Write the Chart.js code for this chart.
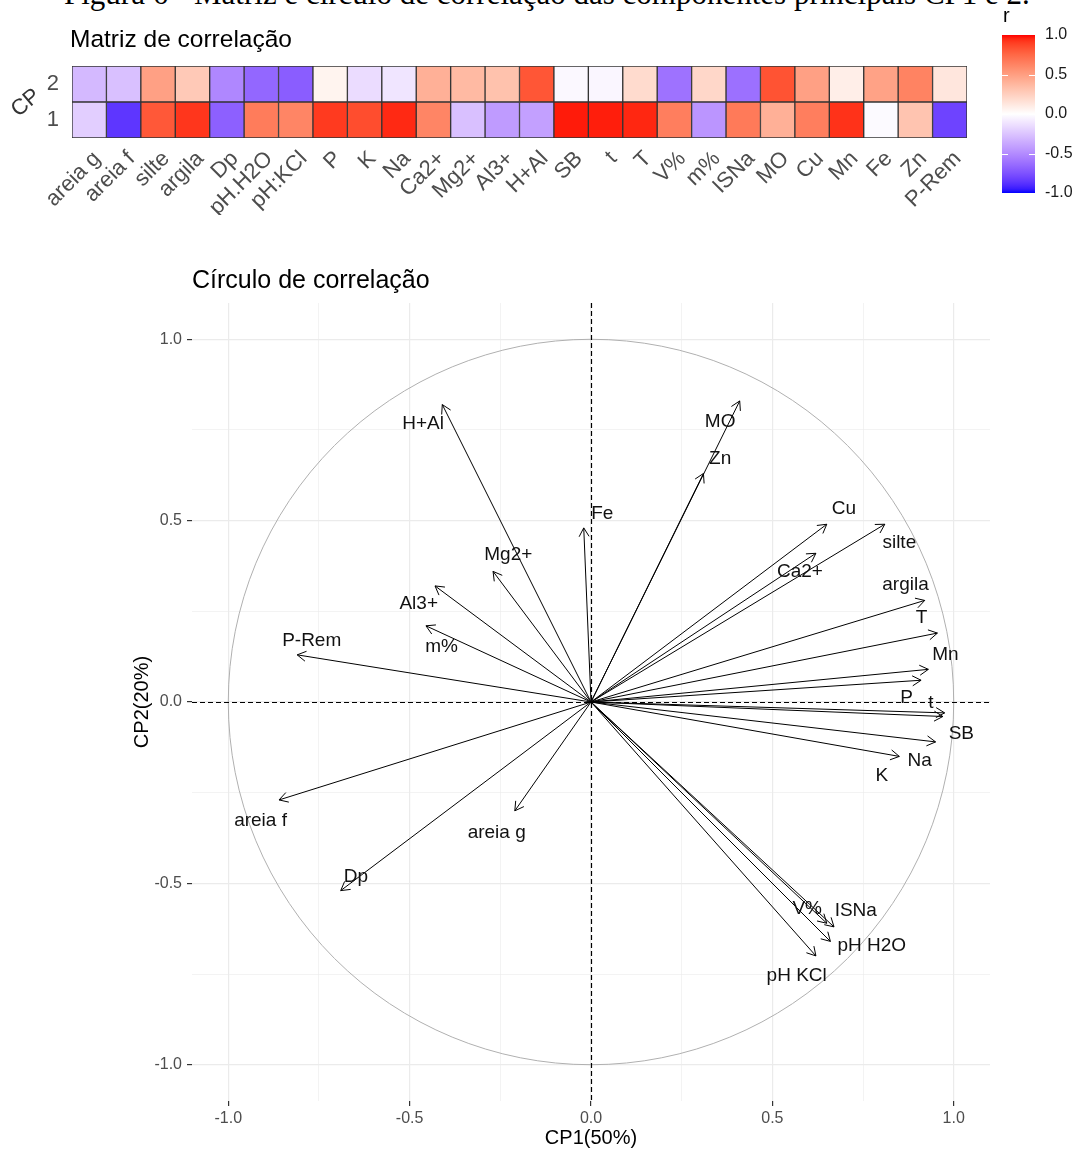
<!DOCTYPE html>
<html>
<head>
<meta charset="utf-8">
<script src="https://cdn.jsdelivr.net/npm/chart.js@4.4.1/dist/chart.umd.min.js"></script>
<style>
  body { margin: 0; background: #fff; width: 1075px; height: 1150px; position: relative; overflow: hidden; }
  .box { position: absolute; }
  #caption { position: absolute; left: 64px; top: -22px; font: 31px "Liberation Serif", "Times New Roman", serif; line-height: 1; white-space: nowrap; color: #000; }
</style>
</head>
<body>
<div id="caption">Figura 6 - Matriz e círculo de correlação das componentes principais CP1 e 2.</div>
<div class="box" style="left:0;top:0;width:990px;height:215px"><canvas id="heat"></canvas></div>
<div class="box" style="left:990px;top:0;width:85px;height:215px"><canvas id="bar"></canvas></div>
<div class="box" style="left:0;top:230px;width:1075px;height:920px"><canvas id="circle"></canvas></div>
<script>
// variables (heatmap columns) and the labels used in the circle
const variables = ["areia g", "areia f", "silte", "argila", "Dp", "pH.H2O", "pH:KCl", "P", "K", "Na", "Ca2+", "Mg2+", "Al3+", "H+Al", "SB", "t", "T", "V%", "m%", "ISNa", "MO", "Cu", "Mn", "Fe", "Zn", "P-Rem"]
const circleLabels = ["areia g", "areia f", "silte", "argila", "Dp", "pH H2O", "pH KCl", "P", "K", "Na", "Ca2+", "Mg2+", "Al3+", "H+Al", "SB", "t", "T", "V%", "m%", "ISNa", "MO", "Cu", "Mn", "Fe", "Zn", "P-Rem"]

// correlations with the principal components
const cp1 = [-0.21, -0.86, 0.81, 0.92, -0.69, 0.66, 0.62, 0.91, 0.85, 0.95, 0.62, -0.27, -0.43, -0.41, 0.975, 0.97, 0.955, 0.65, -0.455, 0.67, 0.41, 0.65, 0.93, -0.02, 0.31, -0.81]
const cp2 = [-0.30, -0.27, 0.49, 0.28, -0.52, -0.66, -0.70, 0.06, -0.15, -0.11, 0.41, 0.36, 0.32, 0.82, -0.03, -0.04, 0.19, -0.61, 0.21, -0.62, 0.83, 0.49, 0.09, 0.48, 0.63, 0.13]

// where the repelled text labels sit (data units)
const labelX = [-0.26, -0.911, 0.85, 0.867, -0.648, 0.774, 0.567, 0.870, 0.802, 0.906, 0.576, -0.228, -0.475, -0.463, 1.021, 0.937, 0.911, 0.596, -0.412, 0.730, 0.356, 0.697, 0.977, 0.031, 0.356, -0.770]
const labelY = [-0.361, -0.327, 0.440, 0.323, -0.483, -0.672, -0.755, 0.013, -0.203, -0.162, 0.359, 0.405, 0.270, 0.767, -0.088, -0.003, 0.231, -0.569, 0.151, -0.575, 0.773, 0.534, 0.130, 0.518, 0.670, 0.169]

// tick labels
const rowTicks = [1, 2]
const legendTicks = [-1, -0.5, 0, 0.5, 1]
const majorTicks = [-1, -0.5, 0, 0.5, 1]
const minorTicks = [-0.75, -0.25, 0.25, 0.75]

const FONT = "'Liberation Sans', Arial, sans-serif"
Chart.defaults.font.family = FONT
Chart.defaults.animation = false

// blue - white - red, interpolated in Lab like ggplot's gradient2
function toLab(hex) {
  const rgb = [1, 3, 5].map(i => parseInt(hex.slice(i, i + 2), 16) / 255)
  const [R, G, B] = rgb.map(c => c <= 0.04045 ? c / 12.92 : Math.pow((c + 0.055) / 1.055, 2.4))
  const X = (R * 0.4124 + G * 0.3576 + B * 0.1805) / 0.95047
  const Y = R * 0.2126 + G * 0.7152 + B * 0.0722
  const Z = (R * 0.0193 + G * 0.1192 + B * 0.9505) / 1.08883
  const f = t => t > 0.008856 ? Math.cbrt(t) : 7.787 * t + 16 / 116
  return [116 * f(Y) - 16, 500 * (f(X) - f(Y)), 200 * (f(Y) - f(Z))]
}
function fromLab([L, a, b]) {
  const fy = (L + 16) / 116, fx = fy + a / 500, fz = fy - b / 200
  const inv = t => t ** 3 > 0.008856 ? t ** 3 : (t - 16 / 116) / 7.787
  const X = inv(fx) * 0.95047, Y = inv(fy), Z = inv(fz) * 1.08883
  const lin = [
    X * 3.2406 - Y * 1.5372 - Z * 0.4986,
    -X * 0.9689 + Y * 1.8758 + Z * 0.0415,
    X * 0.0557 - Y * 0.2040 + Z * 1.0570
  ]
  const out = lin.map(c => {
    c = c <= 0.0031308 ? 12.92 * c : 1.055 * Math.pow(c, 1 / 2.4) - 0.055
    return Math.round(Math.min(1, Math.max(0, c)) * 255)
  })
  return `rgb(${out[0]},${out[1]},${out[2]})`
}
const LOW = toLab("#0000FF"), MID = toLab("#FFFFFF"), HIGH = toLab("#FF0000")
function rColor(v) {
  const end = v < 0 ? LOW : HIGH
  const t = Math.min(1, Math.abs(v))
  return fromLab(MID.map((m, k) => m + (end[k] - m) * t))
}

// ---------- heatmap ----------
const heatText = {
  id: "heatText",
  afterDraw(chart) {
    const { ctx, chartArea } = chart
    ctx.save()
    ctx.fillStyle = "#000"
    ctx.font = `24.5px ${FONT}`
    ctx.textBaseline = "middle"
    ctx.fillText("Matriz de correlação", chartArea.left - 2, 40)
    ctx.translate(26, 103)
    ctx.rotate(-Math.PI / 4.5)
    ctx.textAlign = "center"
    ctx.font = `22px ${FONT}`
    ctx.fillStyle = "#333"
    ctx.fillText("CP", 0, 0)
    ctx.restore()
  }
}

new Chart(document.getElementById("heat"), {
  type: "bar",
  data: {
    labels: variables,
    datasets: [
      { label: "1", data: variables.map(() => [0.5, 1.5]), backgroundColor: cp1.map(rColor) },
      { label: "2", data: variables.map(() => [1.5, 2.5]), backgroundColor: cp2.map(rColor) }
    ]
  },
  options: {
    responsive: true,
    maintainAspectRatio: false,
    layout: { padding: { top: 66, right: 23, left: 0, bottom: 0 } },
    datasets: {
      bar: {
        grouped: false,
        barPercentage: 1,
        categoryPercentage: 1,
        borderWidth: 1,
        borderColor: "#333",
        borderSkipped: false
      }
    },
    plugins: { legend: { display: false }, tooltip: { enabled: false } },
    scales: {
      x: {
        grid: { display: false },
        border: { display: false },
        ticks: {
          autoSkip: false,
          minRotation: 45,
          maxRotation: 45,
          padding: 0,
          labelOffset: 8,
          color: "#4D4D4D",
          font: { size: 22 }
        },
        afterFit: (s) => { s.height = 77 }
      },
      y: {
        min: 0.5,
        max: 2.5,
        grid: { display: false },
        border: { display: false },
        afterBuildTicks: (s) => { s.ticks = rowTicks.map(v => ({ value: v })) },
        ticks: { padding: 5, color: "#4D4D4D", font: { size: 22 }, callback: (v) => String(v) },
        afterFit: (s) => { s.width = 72 }
      }
    }
  },
  plugins: [heatText]
})

// ---------- colour bar ----------
const barText = {
  id: "barText",
  afterDraw(chart) {
    const { ctx, chartArea, scales: { y } } = chart
    ctx.save()
    ctx.fillStyle = "#000"
    ctx.font = `20px ${FONT}`
    ctx.textBaseline = "middle"
    ctx.fillText("r", chartArea.left + 1, 16)
    ctx.strokeStyle = "#fff"
    ctx.lineWidth = 1
    ;[-0.5, 0, 0.5].forEach(v => {
      const py = Math.round(y.getPixelForValue(v)) + 0.5
      ctx.beginPath()
      ctx.moveTo(chartArea.left, py); ctx.lineTo(chartArea.left + 6, py)
      ctx.moveTo(chartArea.right - 6, py); ctx.lineTo(chartArea.right, py)
      ctx.stroke()
    })
    ctx.restore()
  }
}

new Chart(document.getElementById("bar"), {
  type: "bar",
  data: {
    labels: [""],
    datasets: [{
      data: [[-1, 1]],
      barPercentage: 1,
      categoryPercentage: 1,
      borderWidth: 0,
      backgroundColor: (context) => {
        const { ctx, chartArea } = context.chart
        if (!chartArea) return null
        const g = ctx.createLinearGradient(0, chartArea.bottom, 0, chartArea.top)
        for (let k = 0; k <= 40; k++) g.addColorStop(k / 40, rColor(-1 + k / 20))
        return g
      }
    }]
  },
  options: {
    responsive: true,
    maintainAspectRatio: false,
    layout: { padding: { left: 12, top: 35, bottom: 22, right: 0 } },
    plugins: { legend: { display: false }, tooltip: { enabled: false } },
    scales: {
      x: { display: false },
      y: {
        position: "right",
        min: -1,
        max: 1,
        grid: { display: false, drawTicks: false },
        border: { display: false },
        afterBuildTicks: (s) => { s.ticks = legendTicks.map(v => ({ value: v })) },
        ticks: { padding: 10, color: "#1A1A1A", font: { size: 16 }, callback: (v) => v.toFixed(1) },
        afterFit: (s) => { s.width = 40 }
      }
    }
  },
  plugins: [barText]
})

// ---------- correlation circle ----------
const circleDecor = {
  id: "circleDecor",
  beforeDatasetsDraw(chart) {
    const { ctx, scales: { x, y } } = chart
    const cx = x.getPixelForValue(0), cy = y.getPixelForValue(0)
    ctx.save()
    ctx.strokeStyle = "#B0B0B0"
    ctx.lineWidth = 1
    ctx.beginPath()
    ctx.ellipse(cx, cy, x.getPixelForValue(1) - cx, cy - y.getPixelForValue(1), 0, 0, Math.PI * 2)
    ctx.stroke()
    ctx.restore()
  },
  afterDatasetsDraw(chart) {
    const { ctx, chartArea, scales: { x, y } } = chart
    const x0 = x.getPixelForValue(0), y0 = y.getPixelForValue(0)
    ctx.save()
    // arrow heads
    ctx.strokeStyle = "#000"
    ctx.lineWidth = 1
    cp1.forEach((v, i) => {
      const x1 = x.getPixelForValue(v), y1 = y.getPixelForValue(cp2[i])
      const a = Math.atan2(y1 - y0, x1 - x0)
      ctx.beginPath()
      ctx.moveTo(x1 - 10 * Math.cos(a - Math.PI / 6), y1 - 10 * Math.sin(a - Math.PI / 6))
      ctx.lineTo(x1, y1)
      ctx.lineTo(x1 - 10 * Math.cos(a + Math.PI / 6), y1 - 10 * Math.sin(a + Math.PI / 6))
      ctx.stroke()
    })
    // dashed reference lines
    ctx.setLineDash([5, 3])
    ctx.lineWidth = 1.2
    ctx.beginPath()
    ctx.moveTo(chartArea.left, Math.round(y0) + 0.5); ctx.lineTo(chartArea.right, Math.round(y0) + 0.5)
    ctx.moveTo(Math.round(x0) + 0.5, chartArea.top); ctx.lineTo(Math.round(x0) + 0.5, chartArea.bottom)
    ctx.stroke()
    ctx.setLineDash([])
    // labels
    ctx.fillStyle = "#111"
    ctx.font = `19px ${FONT}`
    ctx.textAlign = "center"
    ctx.textBaseline = "middle"
    circleLabels.forEach((t, i) => {
      ctx.fillText(t, x.getPixelForValue(labelX[i]), y.getPixelForValue(labelY[i]))
    })
    // panel title
    ctx.textAlign = "left"
    ctx.fillStyle = "#000"
    ctx.font = `25px ${FONT}`
    ctx.fillText("Círculo de correlação", chartArea.left, chartArea.top - 22)
    ctx.restore()
  }
}

const isMajor = (v) => majorTicks.some(m => Math.abs(m - v) < 1e-9)
const circleAxis = (title, pos) => ({
  min: -1.1,
  max: 1.1,
  afterBuildTicks: (s) => { s.ticks = majorTicks.concat(minorTicks).sort((a, b) => a - b).map(v => ({ value: v })) },
  ticks: {
    padding: pos === "x" ? 3 : 5,
    color: "#4D4D4D",
    font: { size: 16 },
    callback: (v) => isMajor(v) ? v.toFixed(1) : ""
  },
  grid: {
    color: "#EBEBEB",
    lineWidth: (c) => c.tick && isMajor(c.tick.value) ? 1.2 : 0.6,
    tickColor: (c) => c.tick && isMajor(c.tick.value) ? "#333" : "rgba(0,0,0,0)",
    tickLength: 5
  },
  border: { display: false },
  title: {
    display: true,
    text: title,
    color: "#000",
    font: { size: 20 },
    padding: pos === "x" ? { top: 0, bottom: 0 } : { top: 10, bottom: 0 }
  },
  afterFit: (s) => { if (pos === "x") s.height = 49; else s.width = 72 }
})

new Chart(document.getElementById("circle"), {
  type: "scatter",
  data: {
    datasets: cp1.map((v, i) => ({
      label: circleLabels[i],
      data: [{ x: 0, y: 0 }, { x: v, y: cp2[i] }],
      showLine: true,
      borderColor: "#000",
      borderWidth: 1,
      pointRadius: 0
    }))
  },
  options: {
    responsive: true,
    maintainAspectRatio: false,
    layout: { padding: { left: 120, top: 73, right: 85, bottom: 0 } },
    plugins: { legend: { display: false }, tooltip: { enabled: false } },
    scales: {
      x: circleAxis("CP1(50%)", "x"),
      y: circleAxis("CP2(20%)", "y")
    }
  },
  plugins: [circleDecor]
})
</script>
</body>
</html>
